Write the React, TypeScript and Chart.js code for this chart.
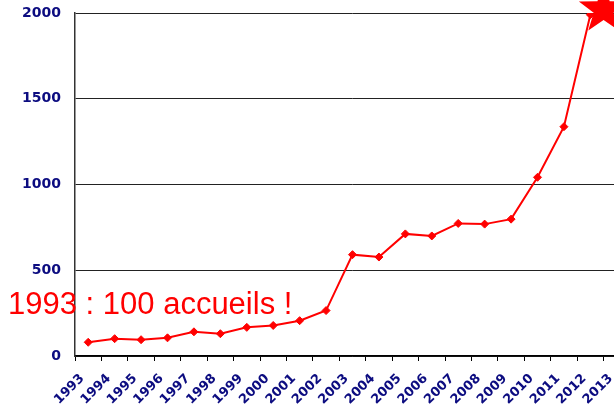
import React, { useEffect, useRef } from "react";
import { Chart, registerables } from "chart.js";

Chart.register(...registerables);

// ---- data ----
const years = [
  "1993", "1994", "1995", "1996", "1997", "1998", "1999", "2000", "2001", "2002",
  "2003", "2004", "2005", "2006", "2007", "2008", "2009", "2010", "2011", "2012", "2013",
];
const accueils: (number | null)[] = [
  80, 101, 95, 106, 141, 130, 167, 178, 206, 265,
  591, 577, 712, 700, 773, 769, 798, 1042, 1337, 1990, null,
];
const yTickValues = [0, 500, 1000, 1500, 2000];
const annotationText = "1993 : 100 accueils !";
const starIndex = 19.5;
const starValue = 2020;

const NAVY = "#0c0c80";
const RED = "#ff0000";

const overlayPlugin = {
  id: "overlay",
  afterDraw(chart: any) {
    const ctx = chart.ctx;
    const xs = chart.scales.x;
    const ys = chart.scales.y;
    // star
    const cx = xs.getPixelForValue(starIndex);
    const cy = ys.getPixelForValue(starValue);
    const R = 26;
    const r = R * 0.4;
    ctx.save();
    ctx.beginPath();
    for (let i = 0; i < 10; i++) {
      const rad = i % 2 === 0 ? R : r;
      const a = -Math.PI / 2 + (i * Math.PI) / 5;
      const px = cx + rad * Math.cos(a);
      const py = cy + rad * Math.sin(a);
      if (i === 0) ctx.moveTo(px, py);
      else ctx.lineTo(px, py);
    }
    ctx.closePath();
    ctx.fillStyle = RED;
    ctx.fill();
    // annotation text
    ctx.font = "31px 'Liberation Sans', Arial, sans-serif";
    ctx.fillStyle = RED;
    ctx.textAlign = "left";
    ctx.textBaseline = "alphabetic";
    ctx.fillText(annotationText, 8, 314);
    ctx.restore();
  },
};

export default function App() {
  const ref = useRef<HTMLCanvasElement | null>(null);

  useEffect(() => {
    if (!ref.current) return;
    const chart = new Chart(ref.current, {
      type: "line",
      data: {
        labels: years,
        datasets: [
          {
            data: accueils,
            borderColor: RED,
            backgroundColor: RED,
            borderWidth: 2,
            pointStyle: "rectRot",
            pointRadius: 4,
            pointBackgroundColor: RED,
            pointBorderColor: RED,
            pointBorderWidth: 1,
            tension: 0,
            fill: false,
          },
        ],
      },
      options: {
        responsive: false,
        animation: false,
        layout: { padding: { left: 0, right: 10, top: 13, bottom: 0 } },
        plugins: {
          legend: { display: false },
          tooltip: { enabled: false },
        },
        scales: {
          x: {
            type: "category",
            offset: true,
            grid: {
              display: true,
              drawOnChartArea: false,
              offset: true,
              drawTicks: true,
              tickLength: 5,
              color: "#000",
              lineWidth: 1,
            },
            border: { display: true, color: "#000", width: 1.5 },
            ticks: {
              autoSkip: false,
              minRotation: 45,
              maxRotation: 45,
              padding: 10,
              labelOffset: -6,
              color: NAVY,
              font: { family: "'DejaVu Sans', Verdana, sans-serif", weight: "bold", size: 13 },
            },
            afterFit: (s: any) => {
              s.height = 49;
              s.paddingLeft = 0;
              s.paddingRight = 0;
            },
          },
          y: {
            min: 0,
            max: 2000,
            afterBuildTicks: (s: any) => {
              s.ticks = yTickValues.map((v) => ({ value: v }));
            },
            ticks: {
              padding: 14,
              color: NAVY,
              callback: (v: any) => String(v),
              font: { family: "'DejaVu Sans', Verdana, sans-serif", weight: "bold", size: 14 },
            },
            grid: { drawTicks: false, color: "#222", lineWidth: 1 },
            border: { display: true, color: "#333", width: 1.5 },
            afterFit: (s: any) => {
              s.width = 75;
              s.paddingTop = 0;
              s.paddingBottom = 0;
            },
          },
        },
      },
      plugins: [overlayPlugin],
    } as any);
    return () => chart.destroy();
  }, []);

  return (
    <div
      style={{
        position: "fixed",
        left: 0,
        top: 0,
        width: 614,
        height: 405,
        overflow: "hidden",
        background: "#fff",
      }}
    >
      <canvas ref={ref} width={640} height={405} style={{ display: "block" }} />
    </div>
  );
}
